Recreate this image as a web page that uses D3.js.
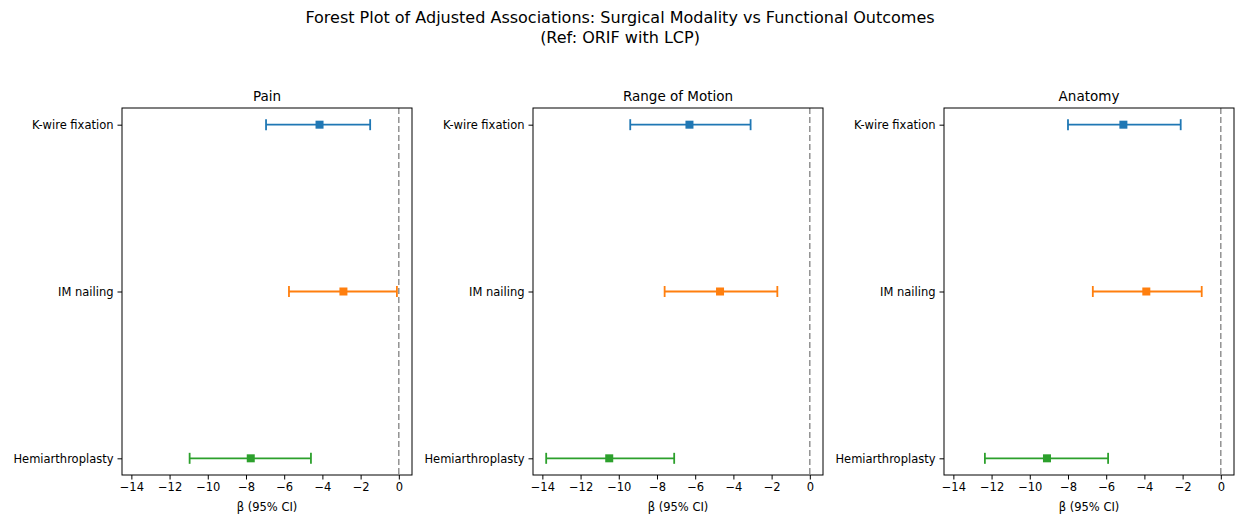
<!DOCTYPE html>
<html>
<head>
<meta charset="utf-8">
<script src="https://cdn.jsdelivr.net/npm/d3@7"></script>
<style>
  body { margin: 0; background: #fff; }
  svg text { font-family: "DejaVu Sans", sans-serif; fill: #000; }
</style>
</head>
<body>
<svg id="chart"></svg>
<script>
// categories (top to bottom) and colours
var categories = ["K-wire fixation", "IM nailing", "Hemiarthroplasty"];
var colors = ["#1f77b4", "#ff7f0e", "#2ca02c"];
var panels = ["Pain", "Range of Motion", "Anatomy"];

// estimates and 95% CI per panel, same order as categories
var painBeta = [-4.15, -2.9, -7.75];
var painLow = [-6.95, -5.75, -10.95];
var painHigh = [-1.5, -0.1, -4.6];

var romBeta = [-6.3, -4.7, -10.5];
var romLow = [-9.4, -7.6, -13.8];
var romHigh = [-3.1, -1.7, -7.1];

var anaBeta = [-5.1, -3.9, -9.1];
var anaLow = [-8.0, -6.7, -12.35];
var anaHigh = [-2.1, -1.0, -5.9];

var xTicks = [-14, -12, -10, -8, -6, -4, -2, 0];

var series = [
  { beta: painBeta, low: painLow, high: painHigh },
  { beta: romBeta, low: romLow, high: romHigh },
  { beta: anaBeta, low: anaLow, high: anaHigh }
];

var svgWidth = 1236, svgHeight = 516;
var svg = d3.select("#chart").attr("width", svgWidth).attr("height", svgHeight);

// figure title
svg.append("text")
  .attr("x", 620).attr("y", 23)
  .attr("text-anchor", "middle")
  .style("font-size", "16px")
  .text("Forest Plot of Adjusted Associations: Surgical Modality vs Functional Outcomes");
svg.append("text")
  .attr("x", 620).attr("y", 43)
  .attr("text-anchor", "middle")
  .style("font-size", "16px")
  .text("(Ref: ORIF with LCP)");

var panelLeft = [122, 533, 944];
var panelWidth = 290;
var plotTop = 108, plotHeight = 367;

// shared x range like sharex
var allLow = d3.min([].concat(painLow, romLow, anaLow));
var allHigh = 0;
var pad = (allHigh - allLow) * 0.05;
var x = d3.scaleLinear().domain([allLow - pad, allHigh + pad]).range([0, panelWidth]);

// categories at 0,1,2 with matplotlib-like margins
var y = d3.scaleLinear().domain([-0.1, 2.1]).range([0, plotHeight]);

panels.forEach(function(name, p) {
  var g = svg.append("g")
    .attr("transform", "translate(" + panelLeft[p] + "," + plotTop + ")");
  var s = series[p];

  // reference line at zero
  g.append("line")
    .attr("x1", x(0)).attr("x2", x(0))
    .attr("y1", 0).attr("y2", plotHeight)
    .attr("stroke", "#808080")
    .attr("stroke-width", 1.3)
    .attr("stroke-dasharray", "6,3");

  categories.forEach(function(c, i) {
    var cy = y(i);
    g.append("line")
      .attr("x1", x(s.low[i])).attr("x2", x(s.high[i]))
      .attr("y1", cy).attr("y2", cy)
      .attr("stroke", colors[i]).attr("stroke-width", 1.8);
    [s.low[i], s.high[i]].forEach(function(v) {
      g.append("line")
        .attr("x1", x(v)).attr("x2", x(v))
        .attr("y1", cy - 5.5).attr("y2", cy + 5.5)
        .attr("stroke", colors[i]).attr("stroke-width", 1.8);
    });
    g.append("rect")
      .attr("x", x(s.beta[i]) - 4).attr("y", cy - 4)
      .attr("width", 8).attr("height", 8)
      .attr("fill", colors[i]);
  });

  // frame
  g.append("rect")
    .attr("width", panelWidth).attr("height", plotHeight)
    .attr("fill", "none").attr("stroke", "#000").attr("stroke-width", 1);

  // x axis
  var xa = g.append("g")
    .attr("transform", "translate(0," + plotHeight + ")")
    .call(d3.axisBottom(x).tickValues(xTicks).tickSize(4.5).tickPadding(3)
      .tickFormat(function(d) { return d < 0 ? "\u2212" + Math.abs(d) : d; }));
  xa.select(".domain").remove();
  xa.selectAll("text").style("font-size", "11.5px").style("font-family", "DejaVu Sans, sans-serif");

  // y axis
  var ya = g.append("g")
    .call(d3.axisLeft(y).tickValues([0, 1, 2]).tickSize(4.5).tickPadding(4)
      .tickFormat(function(d) { return categories[d]; }));
  ya.select(".domain").remove();
  ya.selectAll("text").style("font-size", "11.5px").style("font-family", "DejaVu Sans, sans-serif");

  // subplot title
  g.append("text")
    .attr("x", panelWidth / 2).attr("y", -7)
    .attr("text-anchor", "middle")
    .style("font-size", "13.5px")
    .text(name);

  // x label
  g.append("text")
    .attr("x", panelWidth / 2).attr("y", plotHeight + 36)
    .attr("text-anchor", "middle")
    .style("font-size", "11.5px")
    .text("\u03b2 (95% CI)");
});
</script>
</body>
</html>
